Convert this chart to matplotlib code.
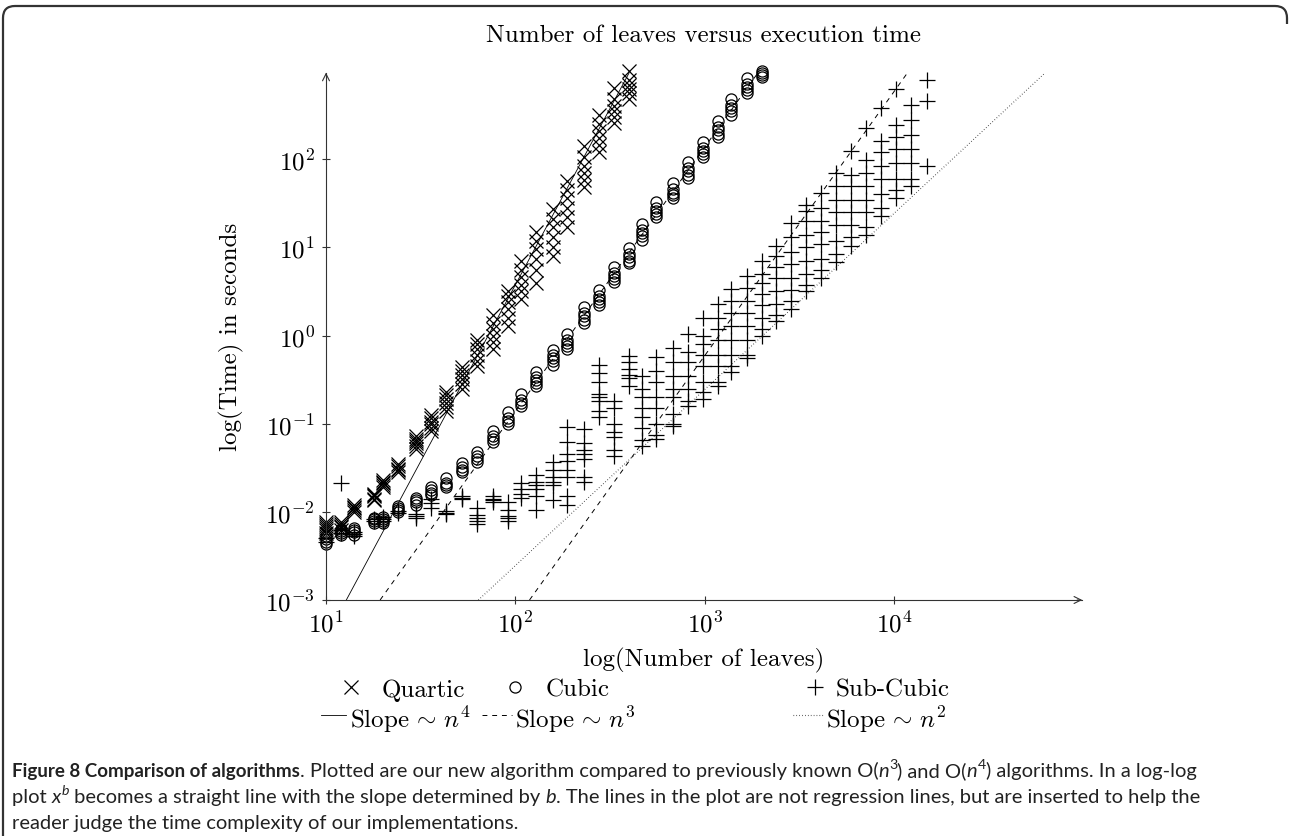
import math
import matplotlib
matplotlib.use('Agg')
import matplotlib.pyplot as plt
from matplotlib.lines import Line2D
from matplotlib.path import Path
from matplotlib.patches import PathPatch
from matplotlib.transforms import IdentityTransform
from matplotlib.ticker import FixedLocator, FuncFormatter, NullLocator

plt.rcParams['font.family'] = 'serif'
plt.rcParams['font.serif'] = ['cmr10']
plt.rcParams['mathtext.fontset'] = 'cm'

# number of leaves (shared grid of problem sizes)
leaves = [10, 12, 14, 18, 20, 24, 30, 36, 43, 52, 63, 76, 91, 107, 129, 158, 186, 229,
          275, 331, 398, 468, 550, 676, 813, 977, 1175, 1380, 1660, 1995, 2380, 2850,
          3420, 4110, 4930, 5890, 7080, 8510, 10230, 12300, 14800]

# execution times in seconds, several runs per size
quartic = [
    [0.0058, 0.0062, 0.0066, 0.007, 0.0073, 0.0077], [0.0063, 0.0067, 0.007, 0.0073, 0.0077],
    [0.0100, 0.0105, 0.011, 0.0115, 0.012], [0.0135, 0.014, 0.015, 0.0155, 0.016],
    [0.019, 0.020, 0.021, 0.022, 0.023], [0.028, 0.030, 0.031, 0.033, 0.035],
    [0.052, 0.056, 0.060, 0.064, 0.068, 0.072], [0.082, 0.09, 0.1, 0.105, 0.115, 0.125],
    [0.14, 0.155, 0.17, 0.19, 0.21, 0.23], [0.25, 0.28, 0.32, 0.36, 0.4, 0.44],
    [0.45, 0.52, 0.6, 0.7, 0.8, 0.9], [0.7, 0.85, 1.0, 1.2, 1.4, 1.7],
    [1.3, 1.6, 2.0, 2.4, 2.8, 3.2], [2.6, 3.2, 3.8, 4.6, 5.5, 7],
    [4, 5.5, 7.5, 9.5, 12, 15], [8, 10, 13, 17, 21, 27], [17, 22, 28, 36, 45, 57],
    [48, 58, 70, 85, 105, 140], [120, 145, 175, 210, 250, 320],
    [260, 300, 350, 400, 480, 650], [480, 560, 630, 700, 800, 1000]]

cubic = [
    [0.0043, 0.0046, 0.0049, 0.0053], [0.0055, 0.0058, 0.0061, 0.0064],
    [0.0055, 0.0059, 0.0062, 0.0066], [0.0074, 0.0078, 0.0082, 0.0086],
    [0.0075, 0.0079, 0.0083, 0.0087], [0.0100, 0.0105, 0.011, 0.0118],
    [0.0120, 0.0128, 0.0135, 0.0145], [0.0155, 0.0165, 0.0175, 0.019],
    [0.019, 0.0202, 0.0215, 0.024], [0.028, 0.030, 0.032, 0.036],
    [0.037, 0.040, 0.043, 0.048], [0.062, 0.067, 0.072, 0.083],
    [0.10, 0.107, 0.115, 0.135], [0.16, 0.17, 0.185, 0.22],
    [0.27, 0.29, 0.31, 0.34, 0.39], [0.47, 0.51, 0.55, 0.6, 0.68],
    [0.7, 0.76, 0.83, 0.9, 1.05], [1.4, 1.5, 1.65, 1.8, 2.1],
    [2.2, 2.4, 2.6, 2.85, 3.3], [4.1, 4.4, 4.8, 5.2, 6.0],
    [6.6, 7.1, 7.7, 8.4, 9.8], [12.3, 13.4, 14.5, 15.8, 18.5],
    [22, 24, 26, 28, 33], [36, 39, 42, 46, 54], [62, 67, 73, 80, 93],
    [105, 114, 124, 135, 158], [180, 196, 213, 232, 270], [320, 350, 380, 410, 480],
    [560, 610, 660, 720, 840], [850, 900, 950, 1000]]

subcubic = [
    [0.0045, 0.005], [0.0058, 0.0062, 0.021], [0.0053, 0.0056, 0.0059],
    [0.0078, 0.0082], [0.0079, 0.0083, 0.0087], [0.0098, 0.0102],
    [0.0085, 0.009, 0.0095], [0.011, 0.0125, 0.014], [0.0095, 0.0098, 0.0102],
    [0.014, 0.0145, 0.015], [0.0072, 0.0079, 0.0085, 0.0092, 0.011],
    [0.013, 0.0135, 0.014, 0.015], [0.0078, 0.0085, 0.009, 0.0105, 0.013],
    [0.0145, 0.016, 0.018, 0.021], [0.0105, 0.015, 0.018, 0.02, 0.022, 0.026],
    [0.0135, 0.02, 0.022, 0.025, 0.03, 0.037],
    [0.012, 0.015, 0.025, 0.03, 0.038, 0.045, 0.062, 0.093],
    [0.022, 0.025, 0.04, 0.045, 0.05, 0.06, 0.087],
    [0.12, 0.14, 0.18, 0.2, 0.22, 0.3, 0.38, 0.46],
    [0.043, 0.05, 0.07, 0.08, 0.1, 0.15, 0.18],
    [0.27, 0.33, 0.36, 0.42, 0.5, 0.59],
    [0.056, 0.065, 0.09, 0.12, 0.15, 0.2, 0.25, 0.35],
    [0.067, 0.075, 0.1, 0.15, 0.2, 0.3, 0.4, 0.57],
    [0.094, 0.1, 0.13, 0.2, 0.25, 0.35, 0.5, 0.72],
    [0.16, 0.18, 0.25, 0.35, 0.5, 0.65, 1.05],
    [0.19, 0.23, 0.3, 0.45, 0.6, 0.8, 1.0, 1.57],
    [0.27, 0.3, 0.45, 0.6, 0.9, 1.2, 1.6, 2.3],
    [0.39, 0.45, 0.6, 0.9, 1.3, 1.8, 2.5, 3.4],
    [0.55, 0.6, 0.9, 1.3, 1.8, 2.5, 3.5, 4.8],
    [1.0, 1.2, 1.6, 2.2, 3, 4, 5, 7.1],
    [1.45, 1.7, 2.3, 3.2, 4.5, 6, 8, 10.5],
    [2.0, 2.5, 3.3, 4.5, 6.5, 9, 13, 18.8],
    [3.2, 3.8, 5, 7, 10, 14, 20, 26, 30],
    [4.5, 5.5, 7.5, 11, 15, 20, 28, 42],
    [6.9, 8.5, 12, 18, 25, 35, 50, 70],
    [10.5, 13, 18, 25, 35, 50, 66, 126],
    [13.8, 17, 25, 35, 50, 70, 98, 224],
    [23, 28, 40, 60, 85, 120, 160, 380],
    [36, 45, 60, 90, 130, 180, 245, 630],
    [50, 60, 90, 130, 190, 280, 410],
    [85, 455, 790]]

# guide lines (end points)
slope4_x = [12.8, 398]
slope4_y = [0.001, 960]
slope3a_x = [19.3, 1900]
slope3a_y = [0.001, 953]
slope3b_x = [118.6, 11600]
slope3b_y = [0.001, 930]
slope2_x = [63.7, 61500]
slope2_y = [0.001, 930]

xticks = [10, 100, 1000, 10000]
yticks = [0.001, 0.01, 0.1, 1, 10, 100]


def flat(ns, ys):
    xs = [n for n, yy in zip(ns, ys) for y in yy]
    vs = [y for yy in ys for y in yy]
    return xs, vs


W, H = 1290, 837
fig = plt.figure(figsize=(W / 100, H / 100), dpi=100)
ax = fig.add_axes([326 / W, 1 - 601 / H, (1082 - 326) / W, (601 - 74) / H])
ax.set_xscale('log')
ax.set_yscale('log')
ax.set_xlim(10, 10 ** 4.99)
ax.set_ylim(0.001, 10 ** 2.98)

qx, qy = flat(leaves, quartic)
cx, cy = flat(leaves, cubic)
sx, sy = flat(leaves, subcubic)

mq = dict(ls='none', marker='x', ms=10, mew=0.9, color='k')
mc = dict(ls='none', marker='o', ms=8, mew=0.9, mfc='none', mec='k')
ms_ = dict(ls='none', marker='+', ms=12, mew=0.9, color='k')
l4 = dict(color='k', lw=0.6, ls='-')
l3 = dict(color='k', lw=0.7, ls=(0, (5, 5)))
l2 = dict(color='#222222', lw=0.8, ls=(0, (0.6, 2.0)))

ax.plot(qx, qy, clip_on=False, **mq)
ax.plot(cx, cy, clip_on=False, **mc)
ax.plot(sx, sy, clip_on=False, **ms_)
ax.plot(slope4_x, slope4_y, **l4)
ax.plot(slope3a_x, slope3a_y, **l3)
ax.plot(slope3b_x, slope3b_y, **l3)
ax.plot(slope2_x, slope2_y, **l2)

for s in ['top', 'right']:
    ax.spines[s].set_visible(False)
for s in ['left', 'bottom']:
    ax.spines[s].set_linewidth(0.8)
    ax.spines[s].set_color('#333333')
ax.annotate('', xy=(1.004, 0), xytext=(0.99, 0), xycoords='axes fraction',
            arrowprops=dict(arrowstyle='->,head_length=0.5,head_width=0.25', lw=0.8, color='#333333'))
ax.annotate('', xy=(0, 1.006), xytext=(0, 0.99), xycoords='axes fraction',
            arrowprops=dict(arrowstyle='->,head_length=0.5,head_width=0.25', lw=0.8, color='#333333'))

fmt = FuncFormatter(lambda v, p: r'$10^{%d}$' % round(math.log10(v)))
ax.xaxis.set_major_locator(FixedLocator(xticks))
ax.yaxis.set_major_locator(FixedLocator(yticks))
ax.xaxis.set_minor_locator(NullLocator())
ax.yaxis.set_minor_locator(NullLocator())
ax.xaxis.set_major_formatter(fmt)
ax.yaxis.set_major_formatter(fmt)
ax.tick_params(direction='inout', length=6, width=0.8, color='#333333', labelsize=18, pad=5)

fig.text(704 / W, 1 - 36 / H, 'Number of leaves versus execution time', ha='center', va='center', fontsize=18)
fig.text(704 / W, 1 - 660 / H, 'log(Number of leaves)', ha='center', va='center', fontsize=18)
fig.text(231 / W, 1 - 337 / H, 'log(Time) in seconds', ha='center', va='center', rotation=90, fontsize=18)

# legend drawn by hand: marker row on top, guide-line row below
pix = IdentityTransform()
r1, r2 = H - 688, H - 716
legend_cols = [
    (351, 382, mq, 'Quartic', (321, 346), 350, l4, r'Slope$\,\sim\,n^4$'),
    (515, 546, mc, 'Cubic', (482, 512), 515, l3, r'Slope$\,\sim\,n^3$'),
    (815, 836, ms_, 'Sub-Cubic', (793, 823), 826, l2, r'Slope$\,\sim\,n^2$'),
]
for mx, tx, mstyle, mlab, (la, lb), tx2, lstyle, llab in legend_cols:
    fig.add_artist(Line2D([mx], [r1], transform=pix, **mstyle))
    fig.text(tx, r1, mlab, transform=pix, ha='left', va='center_baseline', fontsize=18)
    fig.add_artist(Line2D([la, lb], [r2, r2], transform=pix, **lstyle))
    fig.text(tx2, r2, llab, transform=pix, ha='left', va='center_baseline', fontsize=18)

# caption
cap_font = 'Lato'
cap_bold = 13.5
cap_size = 14.5


def put_runs(x, y, runs):
    r = fig.canvas.get_renderer()
    for s, kind in runs:
        kw = dict(family=cap_font, fontsize=cap_size, color='#222222')
        yy = y
        if 'b' in kind:
            kw['weight'] = 'bold'
            kw['fontsize'] = cap_bold
        if 'i' in kind:
            kw['style'] = 'italic'
        if 's' in kind:
            kw['fontsize'] = cap_size * 0.7
            yy = y + 8
        t = fig.text(x, yy, s, transform=pix, va='baseline', ha='left', **kw)
        x = t.get_window_extent(r).x1


put_runs(12, H - 777, [('Figure 8 Comparison of algorithms', 'b'),
                       ('. Plotted are our new algorithm compared to previously known O(', ''),
                       ('n', 'i'), ('3', 's'), (') and O(', ''), ('n', 'i'), ('4', 's'),
                       (') algorithms. In a log-log', '')])
put_runs(12, H - 803, [('plot ', ''), ('x', 'i'), ('b', 'is'),
                       (' becomes a straight line with the slope determined by ', ''),
                       ('b', 'i'),
                       ('. The lines in the plot are not regression lines, but are inserted to help the', '')])
put_runs(12, H - 829, [('reader judge the time complexity of our implementations.', '')])

# rounded frame: left edge, top edge and the top-right corner
rad = 12
top, left, right = H - 7, 3, 1287
verts = [(left, -5), (left, top - rad), (left, top), (left + rad, top),
         (right - rad, top), (right, top), (right, top - rad), (right, top - rad - 6)]
codes = [Path.MOVETO, Path.LINETO, Path.CURVE3, Path.CURVE3,
         Path.LINETO, Path.CURVE3, Path.CURVE3, Path.LINETO]
fig.add_artist(PathPatch(Path(verts, codes), transform=pix, fill=False, lw=1.6, ec='#333333'))

fig.savefig('out.png', dpi=100)
